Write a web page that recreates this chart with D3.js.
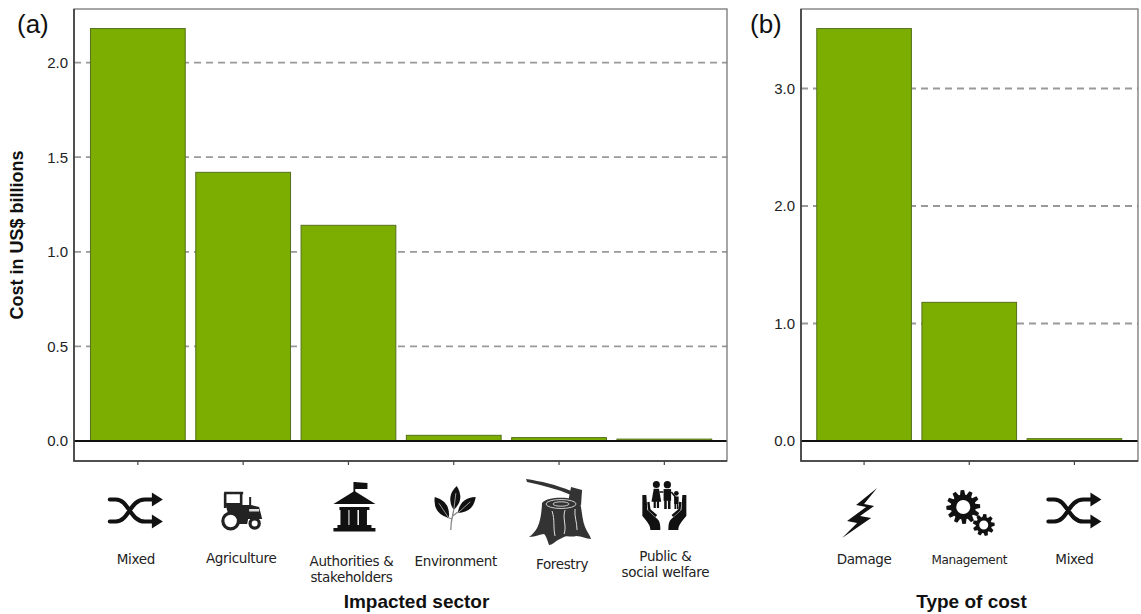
<!DOCTYPE html>
<html>
<head>
<meta charset="utf-8">
<script src="https://cdnjs.cloudflare.com/ajax/libs/d3/7.8.5/d3.min.js"></script>
<style>
    html, body { margin: 0; padding: 0; background: #fff; }
    svg { display: block; }
    text { font-family: "Liberation Sans", sans-serif; fill: #111; }
    .cat { font-family: "DejaVu Sans", sans-serif; font-size: 13.5px; letter-spacing: -0.35px; fill: #222; text-anchor: middle; }
    .title { font-size: 19px; font-weight: bold; text-anchor: middle; }
    .tick text { font-size: 15px; font-family: "Liberation Sans", sans-serif; fill: #222; }
</style>
</head>
<body>
<svg id="chart" width="1141" height="614"></svg>
<script>
// panel a
const sectors = ["Mixed", "Agriculture", "Authorities & stakeholders", "Environment", "Forestry", "Public & social welfare"];
const sectorCosts = [2.18, 1.42, 1.14, 0.03, 0.018, 0.01];
const sectorTicks = [0, 0.5, 1, 1.5, 2];
// panel b
const costTypes = ["Damage", "Management", "Mixed (type)"];
const typeCosts = [3.51, 1.18, 0.02];
const typeTicks = [0, 1, 2, 3];

const svg = d3.select("#chart");
const GREEN = "#7bae00", EDGE = "#55701c";
const TOP = 9, BOTTOM = 461, ZERO = 441;

// category text: hand placed because the original labels wobble around the ticks
const labelPlace = {
    "Mixed": {dx: -2, lines: [["Mixed", 564]]},
    "Agriculture": {dx: -2, lines: [["Agriculture", 563]]},
    "Authorities & stakeholders": {dx: 3, lines: [["Authorities &", 566], ["stakeholders", 582]]},
    "Environment": {dx: 2, lines: [["Environment", 566]]},
    "Forestry": {dx: 3, lines: [["Forestry", 569]]},
    "Public & social welfare": {dx: 1, lines: [["Public &", 561], ["social welfare", 577]]},
    "Damage": {dx: 0, lines: [["Damage", 564]]},
    "Management": {dx: 0, size: 12, lines: [["Management", 564]]},
    "Mixed (type)": {dx: 0, lines: [["Mixed", 564]]}
};

function panel(opts) {
    const x = d3.scaleBand().domain(opts.cats).range(opts.band).paddingInner(0.1).paddingOuter(0.05);
    const y = d3.scaleLinear().domain([0, opts.ticks[1]]).range([ZERO, opts.y1]);
    const g = svg.append("g");

    // dashed grid
    g.selectAll("line.grid").data(opts.ticks.filter(d => d > 0)).join("line")
        .attr("class", "grid")
        .attr("x1", opts.left).attr("x2", opts.right)
        .attr("y1", d => y(d)).attr("y2", d => y(d))
        .attr("stroke", "#999").attr("stroke-width", 1.8).attr("stroke-dasharray", "7 5");

    g.selectAll("rect.bar").data(opts.values).join("rect")
        .attr("class", "bar")
        .attr("x", (d, i) => x(opts.cats[i]))
        .attr("width", x.bandwidth())
        .attr("y", d => y(d))
        .attr("height", d => y(0) - y(d))
        .attr("fill", GREEN).attr("stroke", EDGE).attr("stroke-width", 1);

    // zero line
    g.append("line")
        .attr("x1", opts.left).attr("x2", opts.right)
        .attr("y1", y(0)).attr("y2", y(0))
        .attr("stroke", "#111").attr("stroke-width", 1.8);

    // frame, left and bottom sides are a bit darker
    g.append("rect")
        .attr("x", opts.left).attr("y", TOP)
        .attr("width", opts.right - opts.left).attr("height", BOTTOM - TOP)
        .attr("fill", "none").attr("stroke", "#777").attr("stroke-width", 1.3);
    g.append("path")
        .attr("d", `M${opts.left},${TOP} V${BOTTOM} H${opts.right}`)
        .attr("fill", "none").attr("stroke", "#333").attr("stroke-width", 1.5);

    const yAxis = d3.axisLeft(y).tickValues(opts.ticks).tickFormat(d3.format(".1f")).tickSize(0).tickPadding(6);
    g.append("g").attr("transform", `translate(${opts.left},0)`).call(yAxis)
        .call(a => a.select(".domain").remove());

    const xAxis = d3.axisBottom(x).tickSize(4).tickFormat("");
    g.append("g").attr("transform", `translate(0,${BOTTOM})`).call(xAxis)
        .call(a => a.select(".domain").remove())
        .call(a => a.selectAll("line").attr("stroke", "#444").attr("stroke-width", 1.2));

    // category labels
    opts.cats.forEach(c => {
        const p = labelPlace[c];
        p.lines.forEach(l => {
            const t = g.append("text").attr("class", "cat")
                .attr("x", x(c) + x.bandwidth() / 2 + p.dx)
                .attr("y", l[1]).text(l[0]);
            if (p.size) t.style("font-size", p.size + "px");
        });
    });

    g.append("text").attr("class", "title")
        .attr("x", opts.titleX).attr("y", 608).text(opts.title);
    g.append("text")
        .attr("x", opts.letterX).attr("y", 33)
        .attr("font-size", 26).attr("fill", "#111").text(opts.letter);

    // icons
    opts.icons.forEach((ic, i) => {
        const cx = x(opts.cats[i]) + x.bandwidth() / 2;
        const ig = g.append("g").attr("transform", `translate(${cx + ic[1]},${ic[2]})`);
        ic[0](ig);
    });
    return g;
}

function poly(g, pts, fill) {
    return g.append("path").attr("d", d3.line()(pts) + "Z").attr("fill", fill || "#111");
}

function shuffleIcon(g) {
    g.append("path")
        .attr("d", "M-26,-11 H-20 C-7,-11 -6,11 9,11 H19 M-26,11 H-20 C-7,11 -6,-11 9,-11 H19")
        .attr("fill", "none").attr("stroke", "#111").attr("stroke-width", 4.2).attr("stroke-linecap", "round");
    poly(g, [[16, -18], [27, -11], [16, -4]]);
    poly(g, [[16, 4], [27, 11], [16, 18]]);
}

function tractorIcon(g) {
    g.append("path").attr("d", "M-18,-18 H1 M-17,-18 V-3 M-1,-18 V-5")
        .attr("fill", "none").attr("stroke", "#222").attr("stroke-width", 2.6);
    g.append("path").attr("d", "M-17,-8 H-1 V-6 H7 V-14 H9 V-6 L17,-4 L20,8 L6,8 L5,13 L-3,13 L-5,5 L-14,3 Z").attr("fill", "#222");
    g.append("circle").attr("cx", -11.5).attr("cy", 10).attr("r", 7.8).attr("fill", "#fff").attr("stroke", "#222").attr("stroke-width", 3.2);
    g.append("circle").attr("cx", 12.5).attr("cy", 12.5).attr("r", 4.6).attr("fill", "#fff").attr("stroke", "#222").attr("stroke-width", 3.2);
    g.append("rect").attr("x", 7).attr("y", -2).attr("width", 10).attr("height", 2.5).attr("fill", "#ddd");
}

function buildingIcon(g) {
    g.append("rect").attr("x", -1).attr("y", -25).attr("width", 1.8).attr("height", 10).attr("fill", "#111");
    poly(g, [[0, -25], [13, -24], [13, -18], [0, -18]]);
    poly(g, [[-21, -3], [0, -16], [21, -3]]);
    g.append("rect").attr("x", -15).attr("y", 0).attr("width", 30).attr("height", 3).attr("fill", "#111");
    [-14, -5, 4.5].forEach(cx => g.append("rect").attr("x", cx).attr("y", 3).attr("width", 8).attr("height", 17).attr("fill", "#111"));
    g.append("rect").attr("x", -17).attr("y", 18).attr("width", 34).attr("height", 3).attr("fill", "#111");
    g.append("rect").attr("x", -21).attr("y", 21).attr("width", 42).attr("height", 3.5).attr("fill", "#111");
}

function leaf(g, x0, y0, x1, y1, w) {
    const mx = (x0 + x1) / 2, my = (y0 + y1) / 2;
    const dx = x1 - x0, dy = y1 - y0, len = Math.hypot(dx, dy);
    const nx = -dy / len * w, ny = dx / len * w;
    g.append("path").attr("d", `M${x0},${y0} Q${mx + nx},${my + ny} ${x1},${y1} Q${mx - nx},${my - ny} ${x0},${y0}Z`).attr("fill", "#111");
    g.append("path").attr("d", `M${x0},${y0} L${mx + dx * 0.2},${my + dy * 0.2}`).attr("stroke", "#bbb").attr("stroke-width", 0.8);
}

function leavesIcon(g) {
    g.append("path").attr("d", "M-4,23 C-4,14 -2,8 -1,3 M-3,12 L-8,10 M-2,9 L3,5")
        .attr("fill", "none").attr("stroke", "#888").attr("stroke-width", 1.3);
    leaf(g, -1, 3, 2, -21, 10);
    leaf(g, -6, 11, -20, -10, 11);
    leaf(g, 3, 6, 21, -10, 10);
}

function stumpIcon(g) {
    // handle and head of the axe
    g.append("path").attr("d", "M-36,-33 C-22,-31 -5,-27 9,-21 L9,-17 C-5,-23 -20,-27 -35,-30 Z").attr("fill", "#333");
    poly(g, [[9, -25], [20, -22], [19, -7], [6, -10]], "#333");
    g.append("path")
        .attr("d", "M-20,-9 C-15,-16 12,-16 18,-9 C20,-2 20,8 23,15 C25,20 28,23 29,27 C24,27 20,24 14,24 C8,26 5,22 0,26 C-6,28 -9,33 -13,33 C-15,27 -16,24 -18,22 C-22,22 -26,25 -33,25 C-25,19 -21,12 -20,-9 Z")
        .attr("fill", "#333");
    g.append("ellipse").attr("cx", -1).attr("cy", -8).attr("rx", 15).attr("ry", 4.5).attr("fill", "none").attr("stroke", "#ccc").attr("stroke-width", 1);
    g.append("ellipse").attr("cx", -1).attr("cy", -8).attr("rx", 8).attr("ry", 2.2).attr("fill", "none").attr("stroke", "#ccc").attr("stroke-width", 1);
    g.append("path").attr("d", "M-10,-1 C-7,8 -9,16 -7,24 M3,-2 C0,6 5,14 2,22 M13,-3 C12,4 15,10 15,18")
        .attr("fill", "none").attr("stroke", "#ddd").attr("stroke-width", 1);
}

function person(g, cx, top, h, w, skirt) {
    const r = h * 0.13;
    g.append("circle").attr("cx", cx).attr("cy", top + r).attr("r", r).attr("fill", "#111");
    const s = top + 2 * r + 0.8;
    if (skirt) poly(g, [[cx - w * 0.4, s], [cx + w * 0.4, s], [cx + w * 0.75, s + h * 0.48], [cx - w * 0.75, s + h * 0.48]]);
    else g.append("rect").attr("x", cx - w / 2).attr("y", s).attr("width", w).attr("height", h * 0.42).attr("fill", "#111");
    const legTop = s + h * 0.4, legH = top + h - legTop;
    g.append("rect").attr("x", cx - w * 0.42).attr("y", legTop).attr("width", w * 0.34).attr("height", legH).attr("fill", "#111");
    g.append("rect").attr("x", cx + w * 0.08).attr("y", legTop).attr("width", w * 0.34).attr("height", legH).attr("fill", "#111");
}

function familyIcon(g) {
    person(g, -8, -25, 27, 6.5, true);
    person(g, 3, -25, 28, 7.5, false);
    person(g, 12, -15, 18, 4.5, false);
    g.append("path").attr("d", "M-5,-14 L-1,-14 M7,-14 L11,-9").attr("stroke", "#111").attr("stroke-width", 1.6);
    const hand = "M-22,-11 L-18,-11 L-17,4 L-7,13 C-5,15 -4,17 -4,24 L-14,24 C-14,19 -17,16 -22,10 Z";
    g.append("path").attr("d", hand).attr("fill", "#111");
    g.append("path").attr("d", hand).attr("fill", "#111").attr("transform", "scale(-1,1)");
    g.append("path").attr("d", "M-16,-4 L-15,4 L-8,10 M16,-4 L15,4 L8,10").attr("fill", "none").attr("stroke", "#111").attr("stroke-width", 2.4);
}

function boltIcon(g) {
    poly(g, [[17, -25], [-4, -8], [6, -6], [-13, 8], [-3, 10], [-18, 25], [11, 5], [0, 3], [14, -7], [4, -9]]);
}

function gear(cx, cy, rOut, rIn, rHole, teeth) {
    const p = d3.path();
    const step = 2 * Math.PI / teeth;
    for (let i = 0; i < teeth; i++) {
        const a = i * step;
        [[rIn, -0.5], [rOut, -0.3], [rOut, 0.1], [rIn, 0.3]].forEach((q, j) => {
            const t = a + q[1] * step;
            const px = cx + q[0] * Math.cos(t), py = cy + q[0] * Math.sin(t);
            if (i === 0 && j === 0) p.moveTo(px, py); else p.lineTo(px, py);
        });
    }
    p.closePath();
    p.moveTo(cx + rHole, cy);
    p.arc(cx, cy, rHole, 0, 2 * Math.PI);
    return p.toString();
}

function gearsIcon(g) {
    g.append("path").attr("d", gear(-8, -6, 17, 12.5, 7, 12)).attr("fill", "#111").attr("fill-rule", "evenodd");
    g.append("path").attr("d", gear(12.5, 12, 11, 8, 4.5, 9)).attr("fill", "#111").attr("fill-rule", "evenodd");
}

panel({
    cats: sectors, values: sectorCosts, ticks: sectorTicks,
    left: 74, right: 727, band: [85.2, 717], y1: 346.4,
    title: "Impacted sector", titleX: 416.5, letter: "(a)", letterX: 17,
    icons: [[shuffleIcon, -2, 510.5], [tractorIcon, -1, 511], [buildingIcon, 6, 507],
            [leavesIcon, 1, 507], [stumpIcon, 3, 512], [familyIcon, 0, 506]]
});

panel({
    cats: costTypes, values: typeCosts, ticks: typeTicks,
    left: 801, right: 1138, band: [811.5, 1127], y1: 323.5,
    title: "Type of cost", titleX: 971.5, letter: "(b)", letterX: 750,
    icons: [[boltIcon, -4, 513], [gearsIcon, 2, 513], [shuffleIcon, 0, 510.5]]
});

svg.append("text")
    .attr("transform", "translate(23,235) rotate(-90)")
    .attr("class", "title").style("font-size", "18px").text("Cost in US$ billions");
</script>
</body>
</html>
